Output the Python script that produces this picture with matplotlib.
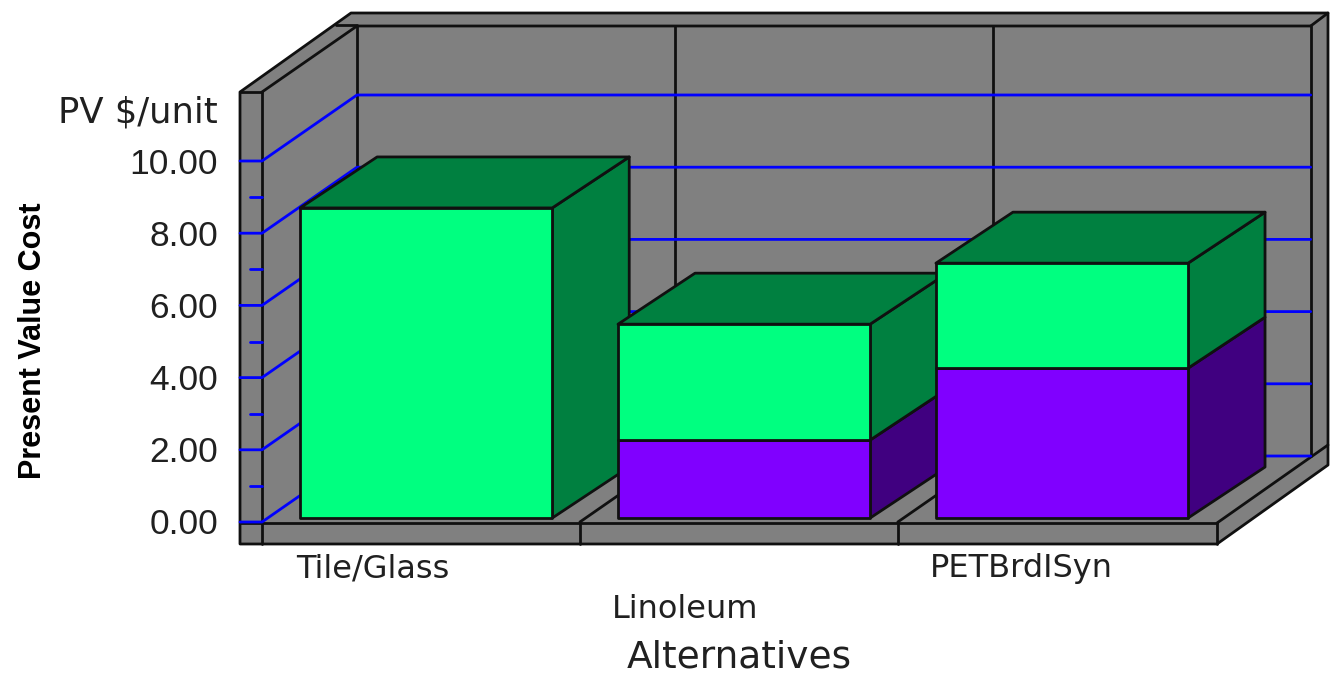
import matplotlib
matplotlib.use('Agg')
import matplotlib.pyplot as plt
from matplotlib.patches import Polygon

plt.rcParams['font.family'] = ['DejaVu Sans']

# values
categories = ['Tile/Glass', 'Linoleum', 'PETBrdISyn']
purple_vals = [0.0, 2.16, 4.15]
green_vals = [8.59, 3.21, 2.91]
major_ticks = [0, 2, 4, 6, 8, 10]
minor_ticks = [1, 3, 5, 7, 9]
tick_labels = ['0.00', '2.00', '4.00', '6.00', '8.00', '10.00']

GRAY = '#808080'
BLUE = '#0000ff'
GREEN = '#00ff80'
GREEN_DK = '#008040'
PURPLE = '#8000ff'
PURPLE_DK = '#400080'
INK = '#101010'

# oblique projection, x in categories, v in chart units, z = depth 0..1
X0, Y0 = 262, 522
CAT_W = 317.9
UNIT = 36.1
DX, DY = 95, -66
BAR_DX, BAR_DY = 77, -51

def proj(x, v, z=0):
    return (X0 + x*CAT_W + z*DX, Y0 - v*UNIT + z*DY)

fig = plt.figure(figsize=(13.42, 6.87), dpi=100)
ax = fig.add_axes([0, 0, 1, 1])
ax.set_xlim(0, 1342)
ax.set_ylim(687, 0)
ax.axis('off')

def poly(pts, color, lw=2.0, z=1):
    ax.add_patch(Polygon(pts, closed=True, facecolor=color, edgecolor=INK, lw=lw, joinstyle='round', zorder=z))

def line(pts, color=INK, lw=2.0, z=2):
    ax.plot([p[0] for p in pts], [p[1] for p in pts], color=color, lw=lw, zorder=z, solid_capstyle='round')

top_v = (Y0 - 92) / UNIT

# frame outline
poly([(240, 92), (351, 13), (1328, 13), (1328, 465), (1217, 544), (240, 544)], GRAY)
line([proj(0, top_v), proj(0, top_v, 1), proj(3, top_v, 1)])
line([(336, 25), (357, 25)])
line([proj(3, top_v, 1), (1328, 13)])
line([(240, 92), (262, 92)])
line([(262, 92), (262, 544)])
line([proj(0, top_v, 1), proj(0, 0, 1)])
line([proj(3, top_v, 1), proj(3, 0, 1)])
line([(1328, 445), (1217, 523)])
line([(240, 523), (1217, 523)])
line([(1217, 523), (1217, 544)])

# back wall dividers and floor dividers
for i in range(1, 3):
    line([proj(i, top_v, 1), proj(i, 0, 1)])
    line([(X0 + i*CAT_W, 523), (X0 + i*CAT_W, 544)])
    line([proj(i, 0), proj(i, 0, 1)])

# grid
for v in major_ticks:
    line([(240, proj(0, v)[1]), proj(0, v), proj(0, v, 1), proj(3, v, 1)], color=BLUE, z=3)
for v in minor_ticks:
    line([(250, proj(0, v)[1]), proj(0, v)], color=BLUE, z=3)

# bars
bar_off = 0.102
bar_w = 0.793
z0 = 0.06

def back(p):
    return (p[0] + BAR_DX, p[1] + BAR_DY)

def box(i, v0, v1, face, side, top=None):
    x0 = i + bar_off
    x1 = x0 + bar_w
    a, b, c, d = proj(x0, v0, z0), proj(x1, v0, z0), proj(x1, v1, z0), proj(x0, v1, z0)
    poly([b, back(b), back(c), c], side, z=5+i)
    if top:
        poly([d, back(d), back(c), c], top, z=5+i)
    poly([a, b, c, d], face, z=5+i)

for i in range(len(categories)):
    if purple_vals[i] > 0:
        box(i, 0, purple_vals[i], PURPLE, PURPLE_DK)
    box(i, purple_vals[i], purple_vals[i] + green_vals[i], GREEN, GREEN_DK, GREEN_DK)

# text
for v, lab in zip(major_ticks, tick_labels):
    ax.text(218, proj(0, v)[1] + 3, lab, ha='right', va='center', fontsize=25.5,
            family='Liberation Sans', color='#202020')
ax.text(218, 113, 'PV $/unit', ha='right', va='center', fontsize=25.5, color='#202020')
ax.text(33, 341, 'Present Value Cost', rotation=90, ha='center', va='center', fontsize=22,
        fontweight='bold', family='Liberation Sans', color='black')

label_x = [373, 685, 1021]
label_y = [569, 609, 569]
for lab, lx, ly in zip(categories, label_x, label_y):
    ax.text(lx, ly, lab, ha='center', va='center', fontsize=23, color='#202020')
ax.text(739, 658, 'Alternatives', ha='center', va='center', fontsize=27, color='#202020')

fig.savefig('out.png', dpi=100)
